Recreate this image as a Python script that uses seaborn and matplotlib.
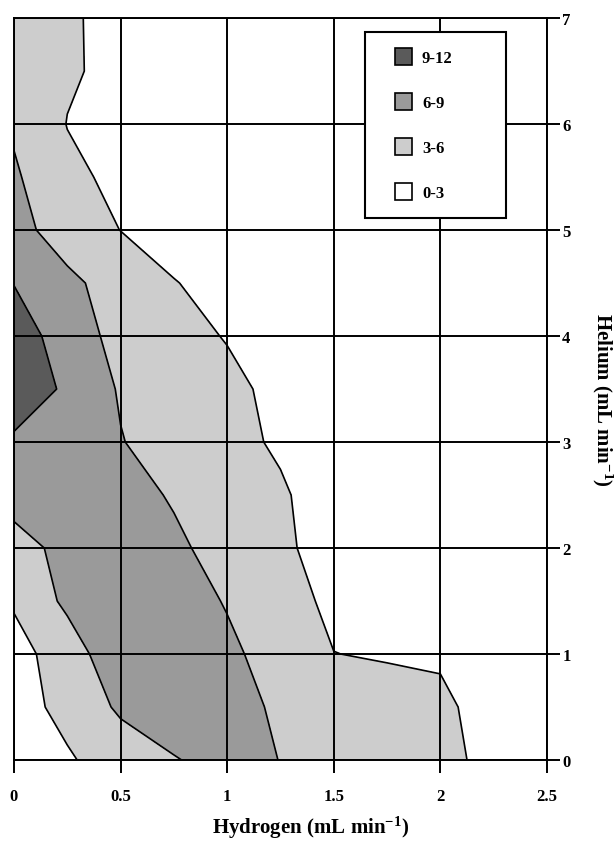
import numpy as np
import matplotlib.pyplot as plt
import seaborn as sns
from matplotlib.patches import Patch, Rectangle
from matplotlib.legend_handler import HandlerPatch

# grid of the measurement: hydrogen flow (x) and helium flow (y)
hydrogen = [0, 0.25, 0.5, 0.75, 1.0, 1.25, 1.5, 1.75, 2.0, 2.25, 2.5]
helium = [0, 0.5, 1.0, 1.5, 2.0, 2.5, 3.0, 3.5, 4.0, 4.5, 5.0, 5.5, 6.0, 6.5, 7.0]

# response, one row per helium level
he_0_0 = [1.5, 2.72, 4.23, 5.83, 7.0, 5.95, 5.13, 4.27, 3.41, 2.59, 1.8]
he_0_5 = [2.0, 3.71, 6.5, 7.6, 7.4, 5.4, 4.7, 4.0, 3.5, 2.0, 1.6]
he_1_0 = [2.0, 4.38, 8.27, 8.0, 6.6, 4.75, 3.03, 2.8, 2.7, 1.8, 1.4]
he_1_5 = [3.3, 6.63, 8.0, 7.4, 5.8, 4.0, 2.47, 2.0, 1.8, 1.4, 1.2]
he_2_0 = [5.0, 6.76, 8.0, 6.6, 4.79, 3.6, 1.68, 1.5, 1.4, 1.2, 1.0]
he_2_5 = [7.0, 7.8, 7.2, 5.7, 4.5, 3.3, 1.8, 1.4, 1.2, 1.0, 0.9]
he_3_0 = [8.8, 8.3, 6.15, 4.45, 3.7, 2.68, 1.6, 1.2, 1.0, 0.9, 0.8]
he_3_5 = [9.8, 8.8, 5.69, 4.4, 3.6, 2.36, 1.5, 1.1, 0.9, 0.8, 0.7]
he_4_0 = [10.0, 8.08, 4.72, 3.8, 2.87, 2.0, 1.3, 1.0, 0.8, 0.7, 0.6]
he_4_5 = [8.95, 7.0, 4.06, 3.1, 2.17, 1.6, 1.1, 0.9, 0.7, 0.6, 0.5]
he_5_0 = [7.5, 3.93, 2.98, 2.0, 1.5, 1.2, 0.9, 0.7, 0.6, 0.5, 0.4]
he_5_5 = [6.4, 3.62, 2.37, 1.6, 1.2, 1.0, 0.8, 0.6, 0.5, 0.4, 0.4]
he_6_0 = [5.6, 2.93, 2.0, 1.4, 1.1, 0.9, 0.7, 0.6, 0.5, 0.4, 0.3]
he_6_5 = [5.0, 3.3, 2.36, 1.4, 1.1, 0.9, 0.7, 0.6, 0.5, 0.4, 0.3]
he_7_0 = [4.5, 3.3, 2.3, 1.5, 1.1, 0.9, 0.7, 0.6, 0.5, 0.4, 0.3]

levels = [0, 3, 6, 9, 12]
band_labels = ['0-3', '3-6', '6-9', '9-12']
band_colors = ['#ffffff', '#cdcdcd', '#9a9a9a', '#5a5a5a']

x_ticks = [0, 0.5, 1, 1.5, 2, 2.5]
x_ticklabels = ['0', '0.5', '1', '1.5', '2', '2.5']
y_ticks = [0, 1, 2, 3, 4, 5, 6, 7]
y_ticklabels = ['0', '1', '2', '3', '4', '5', '6', '7']

Z = np.array([he_0_0, he_0_5, he_1_0, he_1_5, he_2_0, he_2_5, he_3_0, he_3_5,
              he_4_0, he_4_5, he_5_0, he_5_5, he_6_0, he_6_5, he_7_0])

sns.set_theme(style='white')
plt.rcParams['font.family'] = ['Liberation Serif', 'DejaVu Serif']
plt.rcParams['font.weight'] = 'bold'
plt.rcParams['axes.labelweight'] = 'bold'
plt.rcParams['mathtext.fontset'] = 'custom'
plt.rcParams['mathtext.rm'] = 'Liberation Serif:bold'
plt.rcParams['mathtext.it'] = 'Liberation Serif:bold'
plt.rcParams['mathtext.bf'] = 'Liberation Serif:bold'
plt.rcParams['mathtext.default'] = 'rm'

fig = plt.figure(figsize=(6.14, 8.45), dpi=100)
ax = fig.add_axes([0.0228, 0.0994, 0.868, 0.878])

ax.contourf(hydrogen, helium, Z, levels=levels, colors=band_colors)
ax.contour(hydrogen, helium, Z, levels=levels[1:-1], colors='black', linewidths=1.2)

ax.set_xlim(0, 2.5)
ax.set_ylim(0, 7)
ax.set_xticks(x_ticks)
ax.set_xticklabels(x_ticklabels)
ax.set_yticks(y_ticks)
ax.set_yticklabels(y_ticklabels)
ax.yaxis.tick_right()
ax.xaxis.tick_bottom()
ax.tick_params(axis='both', direction='out', length=9, width=1.4, color='black',
               labelsize=12, labelcolor='black')
ax.tick_params(axis='x', pad=11)
ax.tick_params(axis='y', pad=2)

ax.set_axisbelow(False)
ax.grid(True, color='black', linewidth=1.4)
for sp in ax.spines.values():
    sp.set_color('black')
    sp.set_linewidth(1.4)

ax.set_xlabel('Hydrogen (mL min$^{-1}$)', fontsize=15, color='black', fontweight='bold')
ax.xaxis.set_label_coords(0.557, -0.073)
ax.yaxis.set_label_position('right')
ax.set_ylabel('Helium (mL min$^{-1}$)', fontsize=15, color='black', fontweight='bold',
              rotation=-90, va='center', ha='center')
ax.yaxis.set_label_coords(1.105, 0.4865)


def square_patch(legend, orig_handle, xdescent, ydescent, width, height, fontsize):
    side = 1.02 * fontsize
    return Rectangle((-xdescent + width - side, -ydescent + (height - side) / 2), side, side)


handles = [Patch(facecolor=band_colors[i], edgecolor='black', linewidth=1.2, label=band_labels[i])
           for i in [3, 2, 1, 0]]
leg = ax.legend(handles=handles, loc='upper left',
                bbox_to_anchor=(0.6585, 0.732, 0.2645, 0.249), mode='expand',
                borderaxespad=0, borderpad=1.0, handlelength=1.82, handleheight=1.05,
                handletextpad=0.6, labelspacing=1.65, fontsize=12, frameon=True,
                fancybox=False, framealpha=1, edgecolor='black',
                handler_map={Patch: HandlerPatch(patch_func=square_patch)})
leg.get_frame().set_linewidth(1.5)
for t in leg.get_texts():
    t.set_color('black')

fig.savefig('out.png', dpi=100)
